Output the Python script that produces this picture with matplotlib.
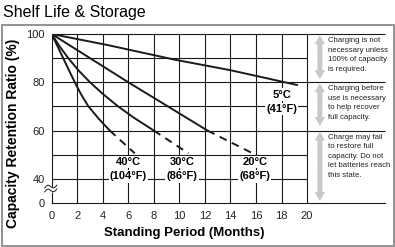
"""Shelf life & storage chart: capacity retention vs standing period."""

import numpy as np
import matplotlib.pyplot as plt
from matplotlib import font_manager
from matplotlib.patches import Rectangle

plt.rcParams["font.family"] = ["Liberation Sans", "DejaVu Sans"]

MONTH_TICKS = list(range(0, 21, 2))
Y_TICKS = [100, 80, 60, 40, 30]
Y_TICK_LABELS = ["100", "80", "60", "40", "0"]

# solid part of each curve, then a dashed tail down to about 50 %
T5_MONTHS = [0, 4.4, 9.6, 14.0, 19.2]
T5_VALUES = [100, 95.4, 89.4, 85.0, 78.9]

T20_MONTHS = [0, 3.0, 6.0, 9.1, 12.2]
T20_VALUES = [100, 90, 80, 70, 60]
T20_TAIL_MONTHS = [12.2, 15.8]
T20_TAIL_VALUES = [60, 50.4]

T30_MONTHS = [0, 0.6, 1.3, 2.1, 3.0, 4.0, 5.2, 6.5, 8.0]
T30_VALUES = [100, 95.0, 90.0, 84.9, 80.0, 75.2, 70.0, 65.1, 60]
T30_TAIL_MONTHS = [8.0, 10.7]
T30_TAIL_VALUES = [60, 50.6]

T40_MONTHS = [0, 0.45, 0.9, 1.35, 1.8, 2.3, 2.85, 3.7, 4.55]
T40_VALUES = [100, 95.0, 90.0, 85.0, 80.1, 75.0, 70.2, 64.8, 60]
T40_TAIL_MONTHS = [4.55, 6.5]
T40_TAIL_VALUES = [60, 50.6]

TEMP_C = ["40°C", "30°C", "20°C", "5°C"]
TEMP_F = ["(104°F)", "(86°F)", "(68°F)", "(41°F)"]

NOTES = [
    "Charging is not\nnecessary unless\n100% of capacity\nis required.",
    "Charging before\nuse is necessary\nto help recover\nfull capacity.",
    "Charge may fail\nto restore full\ncapacity. Do not\nlet batteries reach\nthis state.",
]
NOTE_RANGES = [(99.5, 81.3), (79.6, 61.9), (59.6, 30.8)]

installed = {f.name for f in font_manager.fontManager.ttflist}
if "Liberation Sans Narrow" in installed:
    NOTE_FONT, NOTE_SIZE, NOTE_SPACING = "Liberation Sans Narrow", 6.8, 1.2
else:
    NOTE_FONT, NOTE_SIZE, NOTE_SPACING = "Liberation Sans", 5.6, 1.5

INK = "#1a1a1a"
ARROW_GRAY = "#c8c8c8"

fig = plt.figure(figsize=(3.95, 2.47), dpi=100)
ax = fig.add_axes([51.7 / 395, 44 / 247, 333.3 / 395, 169 / 247])
ax.set_xlim(0, 26.1)
ax.set_ylim(30, 100)

# grid: long lines cross the notes panel, short ones stop at 20 months
ax.hlines([100, 80, 60], 0, 26.1, color=INK, lw=0.8, zorder=1, clip_on=False)
ax.hlines([90, 70, 50, 40], 0, 20, color=INK, lw=0.8, zorder=1)
ax.vlines(MONTH_TICKS[1:], 30, 100, color=INK, lw=0.8, zorder=1)

for months, values, tail_m, tail_v in [
    (T40_MONTHS, T40_VALUES, T40_TAIL_MONTHS, T40_TAIL_VALUES),
    (T30_MONTHS, T30_VALUES, T30_TAIL_MONTHS, T30_TAIL_VALUES),
    (T20_MONTHS, T20_VALUES, T20_TAIL_MONTHS, T20_TAIL_VALUES),
]:
    ax.plot(months, values, color=INK, lw=1.4, zorder=3, solid_joinstyle="round")
    ax.plot(tail_m, tail_v, color=INK, lw=1.4, zorder=3, dashes=(4, 3))
ax.plot(T5_MONTHS, T5_VALUES, color=INK, lw=1.4, zorder=3)

label_x = [6.0, 10.2, 15.9, 18.0]
label_y = [(47.0, 41.0), (47.0, 41.0), (47.0, 41.0), (74.9, 68.9)]
for c_txt, f_txt, x, (yc, yf) in zip(TEMP_C, TEMP_F, label_x, label_y):
    for txt, y in ((c_txt, yc), (f_txt, yf)):
        ax.text(x, y, txt, ha="center", va="center", fontsize=8, fontweight="bold",
                zorder=4, bbox=dict(facecolor="white", edgecolor="none", pad=0.8))

# notes panel with double-headed gray arrows
for note, (top, bottom) in zip(NOTES, NOTE_RANGES):
    mid = (top + bottom) / 2
    for tip in (top, bottom):
        ax.annotate("", xy=(21.0, tip), xytext=(21.0, mid),
                    arrowprops=dict(arrowstyle="simple,head_length=0.65,head_width=0.75,tail_width=0.36",
                                    mutation_scale=10, facecolor=ARROW_GRAY, edgecolor="none",
                                    lw=0, shrinkA=0, shrinkB=0),
                    annotation_clip=False)
    ax.text(21.6, top - 0.9, note, ha="left", va="top", family=NOTE_FONT,
            fontsize=NOTE_SIZE, linespacing=NOTE_SPACING, color="#222222")

ax.set_xticks(MONTH_TICKS)
ax.set_yticks(Y_TICKS)
ax.set_yticklabels(Y_TICK_LABELS)
ax.tick_params(length=0, labelsize=8, colors="#222222")
ax.tick_params(axis="x", pad=6)
ax.tick_params(axis="y", pad=5)
for side in ("top", "right"):
    ax.spines[side].set_visible(False)
for side in ("bottom", "left"):
    ax.spines[side].set_color(INK)
    ax.spines[side].set_linewidth(0.8)

# axis break marks on the left spine
t = np.linspace(0, 1, 40)
bx = -0.55 + 0.95 * t
wave = 0.8 * np.sin(2 * np.pi * t) + 1.2 * t
lower, upper = 34.6 + wave, 36.2 + wave
ax.fill_between(bx, lower, upper, color="white", zorder=5, clip_on=False)
ax.plot(bx, lower, color=INK, lw=0.7, zorder=6, clip_on=False)
ax.plot(bx, upper, color=INK, lw=0.7, zorder=6, clip_on=False)

fig.text(3 / 395, 1 - 12 / 247, "Shelf Life & Storage", fontsize=11.5, va="center", ha="left")
fig.text(13 / 395, 1 - 133 / 247, "Capacity Retention Ratio (%)", rotation=90,
         fontsize=10, fontweight="bold", ha="center", va="center")
fig.text(184 / 395, 1 - 233 / 247, "Standing Period (Months)", fontsize=9.5,
         fontweight="bold", ha="center", va="center")

fig.patches.append(Rectangle((1.5 / 395, 1.5 / 247), 392 / 395, 220 / 247,
                             transform=fig.transFigure, fill=False,
                             edgecolor="#8a8a8a", lw=1.3))

fig.savefig("out.png", dpi=100)
